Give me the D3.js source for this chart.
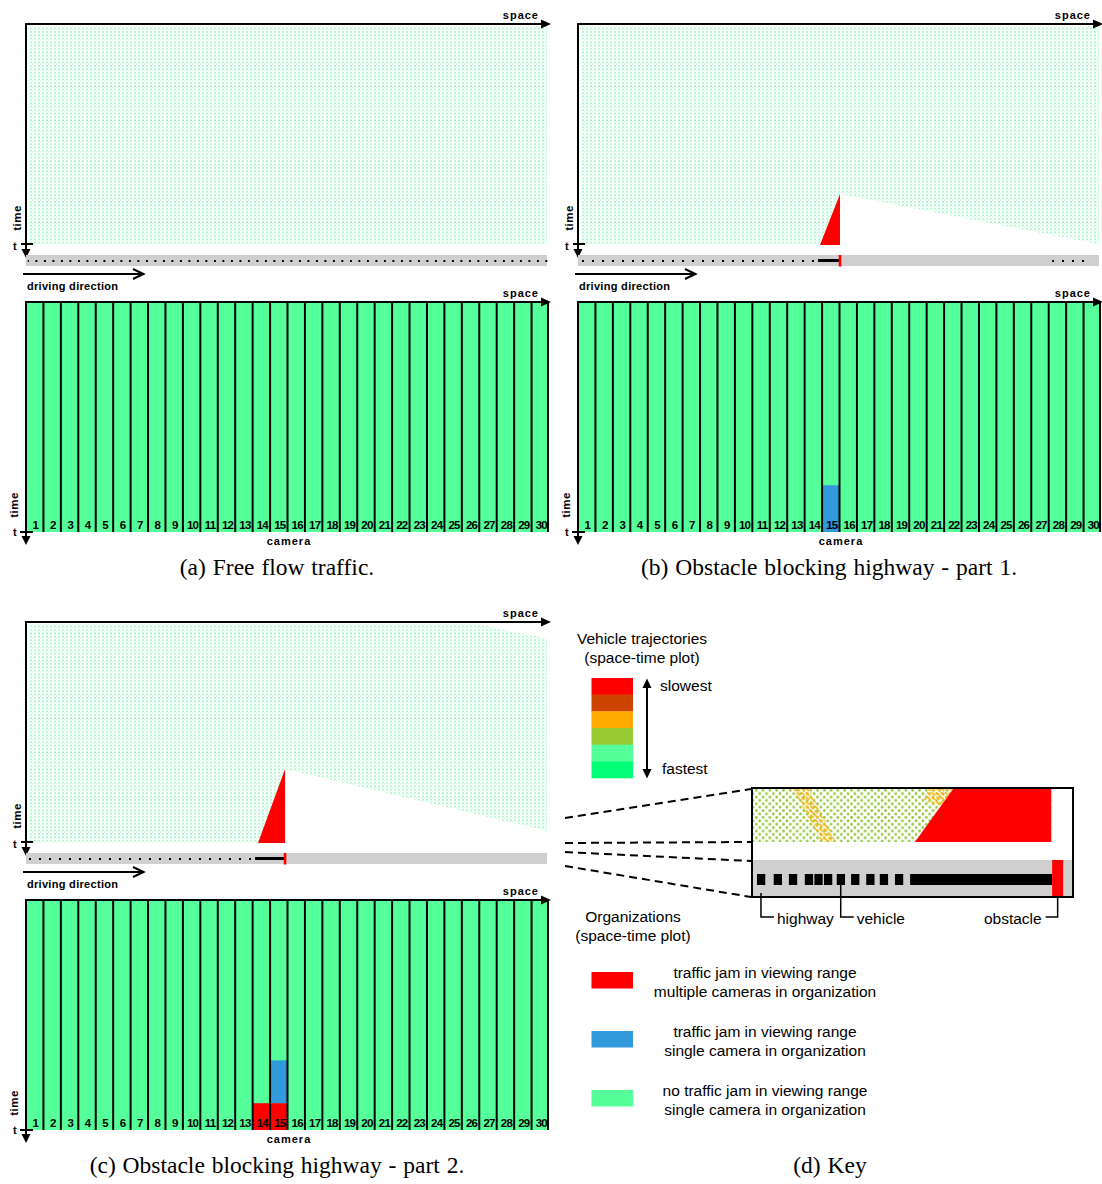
<!DOCTYPE html>
<html><head><meta charset="utf-8">
<script src="https://cdn.jsdelivr.net/npm/d3@7"></script>
<style>
body{margin:0;background:#fff}
svg text{font-family:"Liberation Sans",Arial,sans-serif;fill:#000}
</style>
</head><body>
<svg id="chart" width="1102" height="1184"></svg>
<script>
// ---------------- DATA ----------------
const cameras = ["1","2","3","4","5","6","7","8","9","10","11","12","13","14","15","16","17","18","19","20","21","22","23","24","25","26","27","28","29","30"];
const captions = ["(a) Free flow traffic.", "(b) Obstacle blocking highway - part 1.", "(c) Obstacle blocking highway - part 2.", "(d) Key"];
// space in camera units (0..30), time as fraction of plotted window (0 top .. 1 bottom)
const obstaclePos   = [null, 15.03, 14.86];
const jamStartPos   = [null, 13.88, 13.31];
const jamApexTime   = [null, 0.767, 0.662];
const clearEndTime  = [null, 1.0, 0.95];
const topTaper      = [null, null, {space: 25.5, time: 0.07}];
const upstreamTraffic   = [[0.1, 29.95], [0.1, 13.7], [0.1, 13.1]];
const downstreamTraffic = [null, [27.2, 29.4], null];
const queueExtent   = [null, [13.77, 15.03], [13.14, 14.86]];
// organisation states per camera (time fractions)
const camStates = [
  [],
  [{cam:"15", from:0.796, to:1.0, state:"single"}],
  [{cam:"15", from:0.696, to:0.883, state:"single"},
   {cam:"14", from:0.883, to:1.0, state:"multi"},
   {cam:"15", from:0.883, to:1.0, state:"multi"}]
];
const speedColors = ["#FF0000","#CC4400","#FFAA00","#99CC33","#55FF99","#00FF77"];
const speedEnds = ["slowest","fastest"];
const orgStates = ["multi","single","none"];
const orgColors = {multi:"#FF0000", single:"#3399DD", none:"#55FF99"};
const orgLabels = [
  ["traffic jam in viewing range","multiple cameras in organization"],
  ["traffic jam in viewing range","single camera in organization"],
  ["no traffic jam in viewing range","single camera in organization"]
];
// key close-up (space units 0..40 across the box, time 0..1)
const keyVehicles = [1.0, 3.1, 5.0, 7.0, 8.2, 9.4, 11.0, 12.8, 14.7, 16.4, 18.3];
const keyQueue = [19.7, 37.5];
const keyObstacle = 38.2;
const keyJam = {bottomStart: 20.3, topStart: 25.1, end: 37.4};
const keySlowBands = [
  [[5.0,0],[7.0,0],[10.4,1],[8.6,1]],
  [[21.9,0],[25.1,0],[23.6,0.32],[21.4,0.22]]
];
const keyLabels = [{text:"highway", at:1.0}, {text:"vehicle", at:11.0}, {text:"obstacle", at:38.2}];

// ---------------- DRAW ----------------
const svg = d3.select("#chart");
const defs = svg.append("defs");

// trajectory dot texture
const pDots = defs.append("pattern").attr("id","trajDots").attr("patternUnits","userSpaceOnUse")
  .attr("width",4).attr("height",3.4);
pDots.append("rect").attr("x",0.5).attr("y",0.3).attr("width",1).attr("height",1.6).attr("fill","#4FEA95");
pDots.append("rect").attr("x",2.5).attr("y",2.0).attr("width",0.8).attr("height",0.8).attr("fill","#98F2C0");

function hwPattern(id, spacing, offset){
  const p = defs.append("pattern").attr("id",id).attr("patternUnits","userSpaceOnUse")
    .attr("width",spacing).attr("height",11).attr("y",0);
  p.append("rect").attr("x",offset).attr("y",4.5).attr("width",2).attr("height",2).attr("fill","#000")
    .attr("shape-rendering","crispEdges");
}
hwPattern("hwA", 8.5, 1);
hwPattern("hwB", 10, 4);
hwPattern("hwC", 10, 3);
const hwIds = ["hwA","hwB","hwC"];

// key patterns
const pKey = defs.append("pattern").attr("id","keyDots").attr("patternUnits","userSpaceOnUse").attr("width",6.8).attr("height",6.8);
pKey.append("circle").attr("cx",1.5).attr("cy",1.5).attr("r",1.4).attr("fill","#8FC83A");
pKey.append("circle").attr("cx",4.9).attr("cy",4.9).attr("r",1.4).attr("fill","#8FC83A");
const pOr = defs.append("pattern").attr("id","keyOrange").attr("patternUnits","userSpaceOnUse").attr("width",4.5).attr("height",4.5);
pOr.append("path").attr("d","M0.5,0.5L3,3").attr("stroke","#FFB820").attr("stroke-width",2).attr("stroke-linecap","round");

const W = 523;            // width of plots
const stTop = 2, stBot = 221;
const camTop = 278, camBot = 508;

function arrowRight(g, x0, x1, y){
  g.append("line").attr("x1",x0).attr("x2",x1-9).attr("y1",y).attr("y2",y).attr("stroke","#000").attr("stroke-width",2);
  g.append("path").attr("d",`M${x1-10},${y-4.5}L${x1},${y}L${x1-10},${y+4.5}Z`).attr("fill","#000");
}
function arrowDown(g, x, y0, y1){
  g.append("line").attr("x1",x).attr("x2",x).attr("y1",y0).attr("y2",y1-8).attr("stroke","#000").attr("stroke-width",2);
  g.append("path").attr("d",`M${x-4.5},${y1-9}L${x},${y1}L${x+4.5},${y1-9}Z`).attr("fill","#000");
}
function boldLabel(g, x, y, txt, anchor, spacing){
  return g.append("text").attr("x",x).attr("y",y).attr("text-anchor",anchor||"start")
    .attr("font-size","11px").attr("font-weight","bold").attr("letter-spacing",spacing||0).text(txt);
}
function caption(g, x, y, txt){
  g.append("text").attr("x",x).attr("y",y).attr("text-anchor","middle")
    .style("font-family","'Liberation Serif','Times New Roman',serif").attr("font-size","23.5px")
    .attr("word-spacing",1).text(txt);
}

function drawPanel(i, ox, oy){
  const g = svg.append("g").attr("transform",`translate(${ox},${oy})`);
  const sx = d3.scaleLinear().domain([0,30]).range([0,W]);
  const ty = d3.scaleLinear().domain([0,1]).range([stTop,stBot]);

  // --- space-time plot ---
  g.append("rect").attr("x",2).attr("y",stTop).attr("width",W-4).attr("height",stBot-stTop).attr("fill","url(#trajDots)");
  if (topTaper[i]){
    const t = topTaper[i];
    g.append("path").attr("d", d3.line()([[sx(t.space),ty(0)-1],[sx(30)+2,ty(0)-1],[sx(30)+2,ty(t.time)]])).attr("fill","#fff");
  }
  if (obstaclePos[i] != null){
    const o = obstaclePos[i];
    g.append("path").attr("d", d3.line()([[sx(o),ty(jamApexTime[i])],[sx(30)+2,ty(clearEndTime[i])],[sx(30)+2,ty(1)+1],[sx(o),ty(1)+1]])).attr("fill","#fff");
    g.append("path").attr("d", d3.line()([[sx(jamStartPos[i]),ty(1)],[sx(o),ty(jamApexTime[i])],[sx(o),ty(1)]])).attr("fill","#FF0000");
  }
  arrowRight(g, -1, W+2, 0);
  boldLabel(g, W-10, -5, "space", "end", 1);
  // time axis
  arrowDown(g, 0, -1, 234);
  g.append("line").attr("x1",-5).attr("x2",7).attr("y1",220).attr("y2",220).attr("stroke","#000").attr("stroke-width",2);
  boldLabel(g, -13, 226, "t");
  g.append("text").attr("transform","translate(-5,194) rotate(-90)").attr("text-anchor","middle")
    .attr("font-size","11.5px").attr("font-weight","bold").attr("letter-spacing",0.5).text("time");

  // --- highway strip ---
  const hw = g.append("g").attr("transform","translate(0,231)");
  hw.append("rect").attr("x",0).attr("y",0).attr("width",W-2).attr("height",11).attr("fill","#CFCFCF");
  const up = upstreamTraffic[i];
  hw.append("rect").attr("x",sx(up[0])).attr("y",0).attr("width",sx(up[1])-sx(up[0])).attr("height",11).attr("fill",`url(#${hwIds[i]})`);
  if (downstreamTraffic[i]){
    const d = downstreamTraffic[i];
    hw.append("rect").attr("x",sx(d[0])).attr("y",0).attr("width",sx(d[1])-sx(d[0])).attr("height",11).attr("fill",`url(#${hwIds[i]})`);
  }
  if (queueExtent[i]){
    const q = queueExtent[i];
    hw.append("rect").attr("x",sx(q[0])).attr("y",4).attr("width",sx(q[1])-sx(q[0])).attr("height",3).attr("fill","#000");
    hw.append("rect").attr("x",sx(obstaclePos[i])-1.3).attr("y",0).attr("width",2.6).attr("height",11.5).attr("fill","#FF0000");
  }
  // driving direction
  g.append("line").attr("x1",-3).attr("x2",118).attr("y1",250).attr("y2",250).attr("stroke","#000").attr("stroke-width",2);
  g.append("path").attr("d","M107,245L117.5,250L107,255").attr("fill","none").attr("stroke","#000").attr("stroke-width",2);
  boldLabel(g, 1, 266, "driving direction", "start", 0.3);

  // --- camera organisation plot ---
  const bx = d3.scaleBand().domain(cameras).range([0,W]);
  const cy = d3.scaleLinear().domain([0,1]).range([camTop+1,camBot]);
  g.append("g").selectAll("rect").data(cameras).join("rect")
    .attr("x",d=>bx(d)).attr("y",cy(0)).attr("width",bx.bandwidth()).attr("height",cy(1)-cy(0)).attr("fill",orgColors.none);
  g.append("g").selectAll("rect").data(camStates[i]).join("rect")
    .attr("x",d=>bx(d.cam)).attr("y",d=>cy(d.from)).attr("width",bx.bandwidth()).attr("height",d=>cy(d.to)-cy(d.from))
    .attr("fill",d=>orgColors[d.state]);
  g.append("g").selectAll("line").data(cameras.slice(1).concat(["end"])).join("line")
    .attr("x1",d=>d==="end"?W-1:bx(d)).attr("x2",d=>d==="end"?W-1:bx(d))
    .attr("y1",camTop).attr("y2",camBot).attr("stroke","#000").attr("stroke-width",2);
  g.append("g").selectAll("text").data(cameras).join("text")
    .attr("x",d=>bx(d)+bx.bandwidth()/2+1).attr("y",505).attr("text-anchor","middle")
    .attr("font-size","11.5px").attr("font-weight","bold").attr("letter-spacing",d=>d.length>1?-0.8:0).text(d=>d);
  arrowRight(g, -1, W+2, camTop);
  boldLabel(g, W-10, camTop-5, "space", "end", 1);
  arrowDown(g, 0, camTop-1, 521);
  g.append("line").attr("x1",-6).attr("x2",7).attr("y1",camBot).attr("y2",camBot).attr("stroke","#000").attr("stroke-width",2);
  boldLabel(g, -13, 512, "t");
  g.append("text").attr("transform","translate(-8,481) rotate(-90)").attr("text-anchor","middle")
    .attr("font-size","11.5px").attr("font-weight","bold").attr("letter-spacing",0.5).text("time");
  boldLabel(g, 263, 521, "camera", "middle", 1);

  caption(g, 251, 551, captions[i]);
}

drawPanel(0, 26, 24);
drawPanel(1, 578, 24);
drawPanel(2, 26, 622);

// ---------------- KEY ----------------
const k = svg.append("g");
const kt = (x,y,txt,anchor)=>k.append("text").attr("x",x).attr("y",y).attr("text-anchor",anchor||"middle").attr("font-size","15.5px").text(txt);
kt(642,644,"Vehicle trajectories");
kt(642,663,"(space-time plot)");
const sy = d3.scaleBand().domain(speedColors).range([678,778]);
k.append("g").selectAll("rect").data(speedColors).join("rect")
  .attr("x",591.5).attr("y",d=>sy(d)).attr("width",41.5).attr("height",sy.bandwidth()+0.3).attr("fill",d=>d);
k.append("line").attr("x1",647).attr("x2",647).attr("y1",686).attr("y2",771).attr("stroke","#000").attr("stroke-width",2);
k.append("path").attr("d","M642.5,688L647,678.5L651.5,688Z").attr("fill","#000");
k.append("path").attr("d","M642.5,769L647,778.5L651.5,769Z").attr("fill","#000");
kt(660,691,speedEnds[0],"start");
kt(662,774,speedEnds[1],"start");

// zoom box
const kx = d3.scaleLinear().domain([0,40]).range([753,1072]);
const ky = d3.scaleLinear().domain([0,1]).range([789,842]);
k.append("rect").attr("x",kx(0)).attr("y",ky(0)).attr("width",kx(keyJam.end)-kx(0)).attr("height",ky(1)-ky(0)).attr("fill","url(#keyDots)");
k.append("g").selectAll("path").data(keySlowBands).join("path")
  .attr("d",d=>d3.line()(d.map(p=>[kx(p[0]),ky(p[1])]))+"Z").attr("fill","url(#keyOrange)");
k.append("path").attr("d",d3.line()([[kx(keyJam.bottomStart),ky(1)],[kx(keyJam.topStart),ky(0)],[kx(keyJam.end),ky(0)],[kx(keyJam.end),ky(1)]])+"Z").attr("fill","#FF0000");
k.append("rect").attr("x",753).attr("y",860).attr("width",320).attr("height",37).attr("fill","#CFCFCF");
k.append("g").selectAll("rect").data(keyVehicles).join("rect")
  .attr("x",d=>kx(d)-4).attr("y",874).attr("width",8.3).attr("height",11).attr("fill","#000");
k.append("rect").attr("x",kx(keyQueue[0])).attr("y",874).attr("width",kx(keyQueue[1])-kx(keyQueue[0])).attr("height",11).attr("fill","#000");
k.append("rect").attr("x",kx(keyObstacle)-5.5).attr("y",860).attr("width",11).attr("height",37).attr("fill","#FF0000");
k.append("rect").attr("x",752).attr("y",788).attr("width",321).attr("height",109).attr("fill","none").attr("stroke","#000").attr("stroke-width",2);
// zoom guide dashes
const guides = [[[565,818],[751,789]],[[565,843],[751,842]],[[565,852],[751,861]],[[565,866],[751,897]]];
k.append("g").selectAll("path").data(guides).join("path").attr("d",d=>d3.line()(d))
  .attr("stroke","#000").attr("stroke-width",2).attr("stroke-dasharray","8,5").attr("fill","none");
// callouts
keyLabels.forEach((l,j)=>{
  const x = kx(l.at);
  const y0 = j===2 ? 897 : (j===0 ? 893 : 885);
  if (j<2){
    k.append("path").attr("d",`M${x},${y0}V917H${x+13}`).attr("fill","none").attr("stroke","#000").attr("stroke-width",1.5);
    kt(x+16,924,l.text,"start");
  } else {
    k.append("path").attr("d",`M${x},${y0}V917H${x-12}`).attr("fill","none").attr("stroke","#000").attr("stroke-width",1.5);
    kt(x-16,924,l.text,"end");
  }
});

kt(633,922,"Organizations");
kt(633,941,"(space-time plot)");
const oy = d3.scaleBand().domain(orgStates).range([972,1149]);
orgStates.forEach((s,j)=>{
  const y = oy(s);
  k.append("rect").attr("x",591.5).attr("y",y).attr("width",41.5).attr("height",16.5).attr("fill",orgColors[s]);
  kt(765,y+6,orgLabels[j][0]);
  kt(765,y+25,orgLabels[j][1]);
});
caption(k, 830, 1173, captions[3]);
</script>
</body></html>
